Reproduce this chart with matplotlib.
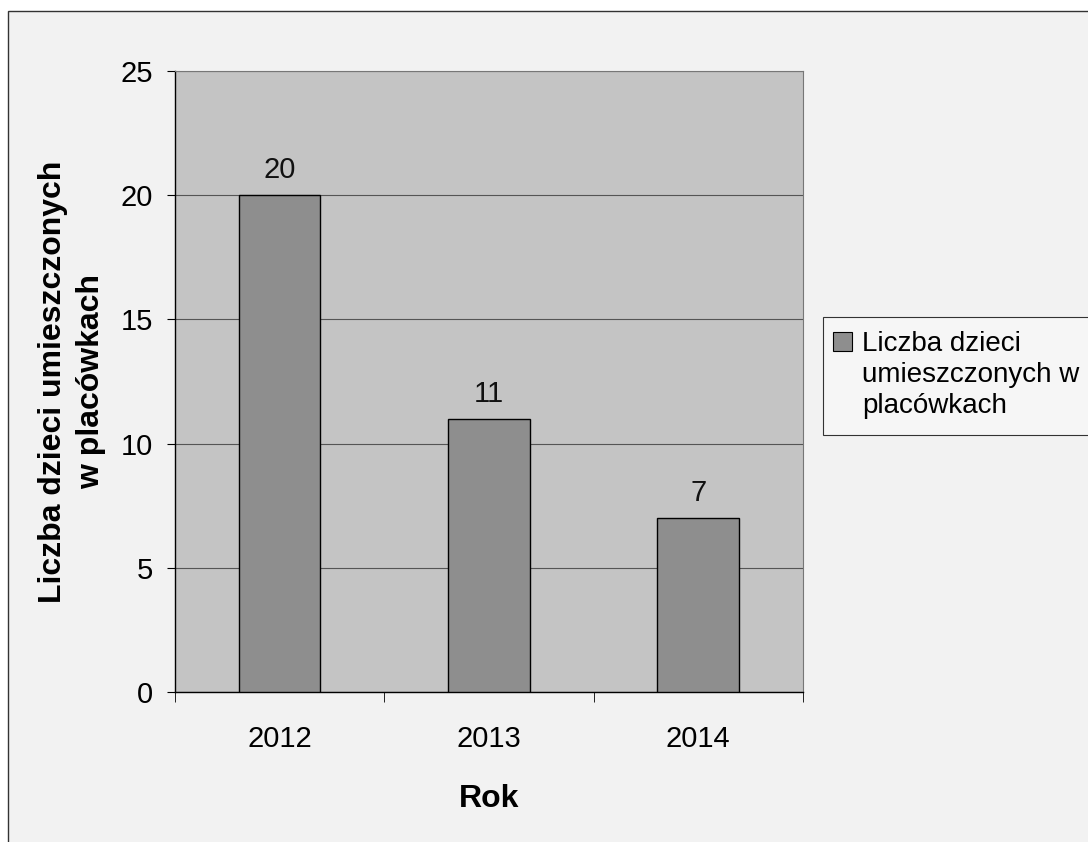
import numpy as np
import matplotlib
matplotlib.use("Agg")
import matplotlib.pyplot as plt
from matplotlib.patches import Rectangle

# dane z wykresu
years = ["2012", "2013", "2014"]
counts = [20, 11, 7]
series_label = "Liczba dzieci\numieszczonych w\nplacówkach"
y_ticks = [0, 5, 10, 15, 20, 25]

plt.rcParams["font.family"] = ["Liberation Sans", "DejaVu Sans"]
FS = 21      # etykiety osi / wartości
FS_LAB = 23  # tytuły osi (pogrubione)
BAR_COLOR = "#8e8e8e"

fig = plt.figure(figsize=(10.88, 8.42), dpi=100, facecolor="white")

# tło i ramka obszaru wykresu (częściowo obcięta jak w skanie)
fig.patches.append(Rectangle((0.0074, -0.05), 1.1, 1.037, transform=fig.transFigure,
                             facecolor="#f2f2f2", edgecolor="#333333", linewidth=1.0,
                             zorder=-5))

ax = fig.add_axes([0.1608, 0.1781, 0.5772, 0.7376])
ax.set_zorder(2)
ax.set_facecolor("#c4c4c4")

x = np.arange(len(years))
bars = ax.bar(x, counts, width=0.39, color=BAR_COLOR, edgecolor="black", linewidth=1.0,
              zorder=3)

for xi, v in zip(x, counts):
    ax.text(xi, v + 0.45, str(v), ha="center", va="bottom", fontsize=FS, color="#111111")

ax.set_xlim(-0.5, len(years) - 0.5)
ax.set_ylim(0, 25)
ax.set_yticks(y_ticks)
ax.set_yticklabels([str(t) for t in y_ticks], fontsize=FS)
ax.yaxis.grid(True, color="#555555", linewidth=0.8, zorder=1)
ax.set_axisbelow(True)

# etykiety kategorii w środku, znaczniki na granicach
ax.set_xticks(x)
ax.set_xticklabels(years, fontsize=FS)
ax.tick_params(axis="x", length=0, pad=24)
ax.set_xticks(np.arange(-0.5, len(years)), minor=True)
ax.tick_params(axis="x", which="minor", length=7, direction="out", color="black")
ax.tick_params(axis="y", length=6, direction="out", pad=10)

for s in ["top", "right"]:
    ax.spines[s].set_color("#777777")
    ax.spines[s].set_linewidth(0.8)
for s in ["left", "bottom"]:
    ax.spines[s].set_color("black")
    ax.spines[s].set_linewidth(1.0)

ax.set_xlabel("Rok", fontsize=FS_LAB, fontweight="bold", labelpad=22)
ax.set_ylabel("Liczba dzieci umieszczonych\nw placówkach", fontsize=FS_LAB,
              fontweight="bold", labelpad=10, linespacing=1.35)

# legenda (ucięta z prawej strony, jak na skanie)
W, H = 1088, 842
fig.patches.append(Rectangle((823 / W, 1 - 435 / H), 0.3, 118 / H, transform=fig.transFigure,
                             facecolor="#f6f6f6", edgecolor="#333333", linewidth=0.8,
                             zorder=3))
fig.patches.append(Rectangle((833 / W, 1 - 351 / H), 19 / W, 19 / H, transform=fig.transFigure,
                             facecolor=BAR_COLOR, edgecolor="black", linewidth=0.8,
                             zorder=4))
fig.text(862 / W, 1 - 331 / H, series_label, ha="left", va="top", fontsize=20,
         linespacing=1.25, zorder=5)

fig.savefig("out.png", dpi=100)
